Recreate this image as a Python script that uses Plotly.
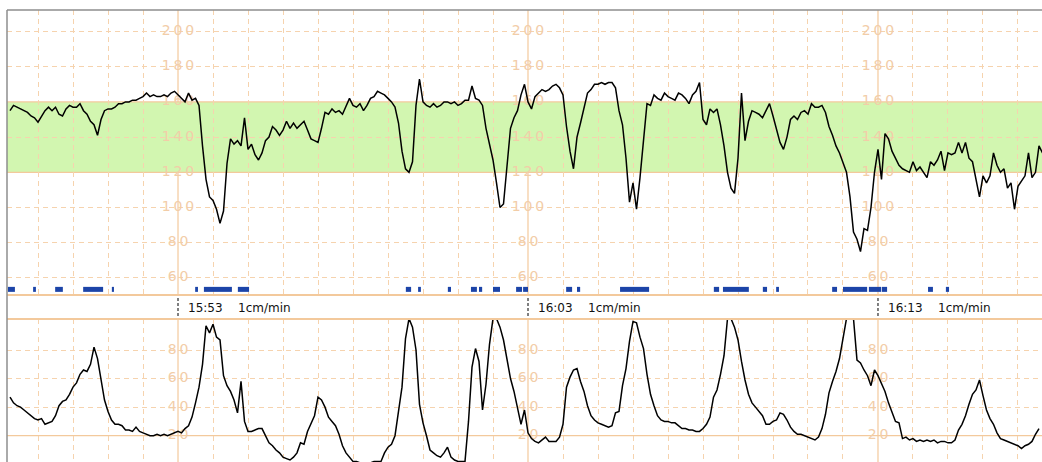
import plotly.graph_objects as go
import numpy as np

# ---------------- data ----------------
# time axis in minutes after 15:00; traces sampled every 0.1 min from 15:48:12
SAMPLE_START_MIN = 48.2
SAMPLE_STEP_MIN = 0.1

# fetal heart rate (bpm)
FHR = [155,158,157,156,155,154,152,151,148.5,152,
       155,157,155,157,153,152,156,158,157,157,
       159,155,153,149,147,141,150,155,156,156,
       157,159,159,160,160,161,161,162,163,165,
       163,164,163,163,164,163,165,166,164,162,
       160,165,161,162,158,135,116,106,104,99,
       91,98,125,139,136,138,135,151,133,136,
       130,127,131,138,140,146,144,141,144,149,
       145,148,145,147,149,144,139,138,137,145,
       154,153,156,154,155,153,158,162,
       158,157,159,155,158,162,163,166,165,164,
       162,160,157,148,132,122,120,126,158,173,
       160,158,157,159,157,158,160,160,159,160,
       158,159,161,161,169,162,161,158,145,135,
       127,114,100,102,123,145,151,155,164,170,
       160,156,163,165,167,166,167,169,170,168,
       164,146,132,122,140,148,157,165,167,170,
       170,171,170,171,171,168,155,147,128,103,
       114,99,117,137,159,158,164,162,161,165,
       163,162,161,165,164,162,159,164,
       166,171,150,147,156,154,156,147,135,120,
       111,108,128,165,138,149,155,154,153,151,
       155,159,152,145,137,133,140,150,152,150,
       154,155,153,159,157,157,158,154,146,141,
       135,131,126,120,106,86,82,75,88,87,
       100,120,133,116,142,139,132,128,124,122,
       121,120,126,121,123,120,117,126,124,127,
       132,121,131,130,131,137,131,137,128,126,
       116,106,118,114,118,131,124,120,122,111,
       114,99,112,115,118,131,117,120,135,131]

# uterine contractions (relative units)
UC = [47,43,41,40,38,36,34,32,31,32,
      28,29,30,34,41,44,45,49,54,57,
      63,66,65,70,82,74,60,45,37,31,
      28,28,27,24,24,23,26,23,22,21,
      20,20,21,20,21,20,21,22,23,22,
      25,27,33,43,54,70,97,92,98,89,
      87,62,55,51,45,36,58,30,23,23,
      24,25,25,20,15,13,10,8,5,4,
      3,5,8,15,14,23,29,34,47,45,
      40,33,30,27,21,13,8,5,
      2,2,1,1,1,1,2,2,2,8,
      12,14,20,37,54,88,102,96,80,42,
      29,20,10,8,6,5,8,12,5,3,
      2,2,2,30,68,81,72,38,56,84,
      102,102,96,87,72,60,51,39,28,38,
      22,18,16,15,17,19,16,16,16,19,
      28,54,61,66,67,58,51,41,34,31,
      29,28,27,26,27,36,37,55,67,86,
      100,99,89,81,63,49,41,34,31,30,
      30,29,29,27,25,25,
      24,24,23,23,25,28,33,47,52,63,
      76,102,102,96,87,72,59,49,43,40,
      37,34,28,28,30,31,36,35,31,26,
      23,21,21,20,19,18,17,19,25,35,
      50,58,65,74,88,102,102,102,73,71,
      66,62,55,66,62,57,51,43,36,30,
      29,18,19,17,18,16,17,16,17,16,
      17,15,16,16,15,15,17,24,28,34,
      42,49,52,59,48,38,32,28,22,18,
      17,16,15,14,13,11,13,14,16,21,
      25]

# fetal movement marks: start / end (minutes after 15:00)
MOVE_START = [48.14,48.86,49.49,50.29,51.11,53.49,53.74,54.71,59.51,59.86,
              60.71,61.37,61.60,62.00,62.66,62.86,64.09,64.40,65.63,68.31,
              68.57,69.71,70.09,71.69,72.00,72.74,73.11,74.43,74.94]
MOVE_END   = [48.34,48.94,49.71,50.86,51.17,53.57,54.54,55.03,59.66,59.94,
              60.80,61.54,61.69,62.20,62.83,63.00,64.26,64.49,66.46,68.46,
              69.31,69.83,70.17,71.83,72.69,73.09,73.26,74.57,75.03]
MOVE_LEVEL = 53.5

# time marks (10 min) and labels
MAJOR_TIMES = [53, 63, 73]
MAJOR_LABELS = ["15:53", "16:03", "16:13"]
MINOR_TIMES = list(range(49, 78))
SPEED_LABEL = "1cm/min"

FHR_TICKS = [200, 180, 160, 140, 120, 100, 80, 60]
FHR_DASHED = [200, 180, 140, 100, 80, 60]
FHR_NORMAL_BAND = [120, 160]
UC_TICKS = [80, 60, 40, 20]
UC_DASHED = [80, 60, 40]
UC_BASE = 20

X_RANGE = [48.114, 77.686]
FHR_RANGE = [50.3, 212.2]
UC_RANGE = [1.6, 101.7]

# ---------------- styling ----------------
W, H = 1042, 462
GRID = "#F6D3AE"
SOLID = "#F3C99C"
LABEL = "#F2CDA8"
GREEN = "#D2F6B0"
BLUE = "#1C44A8"

def py(px):  # pixel row -> paper y
    return (H - px) / H

X0 = 7 / W
TOP_DOM = [py(295), py(10)]
BOT_DOM = [0, py(319)]

t_fhr = SAMPLE_START_MIN + SAMPLE_STEP_MIN * np.arange(len(FHR))
t_uc = SAMPLE_START_MIN + SAMPLE_STEP_MIN * np.arange(len(UC))

fig = go.Figure()

# axis labels drawn as text under the traces
lab_x, lab_y, lab_t = [], [], []
for m in MAJOR_TIMES:
    for v in FHR_TICKS:
        lab_x.append(m); lab_y.append(v); lab_t.append("\u2009".join(str(v)))
fig.add_trace(go.Scatter(x=lab_x, y=lab_y, text=lab_t, mode="text",
                         textfont=dict(family="DejaVu Sans", size=14, color=LABEL),
                         xaxis="x", yaxis="y", hoverinfo="skip"))
lab_x, lab_y, lab_t = [], [], []
for m in MAJOR_TIMES:
    for v in UC_TICKS:
        lab_x.append(m); lab_y.append(v); lab_t.append("\u2009".join(str(v)))
fig.add_trace(go.Scatter(x=lab_x, y=lab_y, text=lab_t, mode="text",
                         textfont=dict(family="DejaVu Sans", size=14, color=LABEL),
                         xaxis="x2", yaxis="y2", hoverinfo="skip"))

# movement marks
mx, my = [], []
for s, e in zip(MOVE_START, MOVE_END):
    mx += [s, e, None]; my += [MOVE_LEVEL, MOVE_LEVEL, None]
fig.add_trace(go.Scatter(x=mx, y=my, mode="lines", line=dict(color=BLUE, width=5),
                         xaxis="x", yaxis="y", hoverinfo="skip"))

# traces
fig.add_trace(go.Scatter(x=t_fhr, y=FHR, mode="lines",
                         line=dict(color="black", width=1.5),
                         xaxis="x", yaxis="y", hoverinfo="skip"))
fig.add_trace(go.Scatter(x=t_uc, y=UC, mode="lines",
                         line=dict(color="black", width=1.5),
                         xaxis="x2", yaxis="y2", hoverinfo="skip"))

shapes = []
# normal band
shapes.append(dict(type="rect", xref="x", yref="y", x0=X_RANGE[0], x1=X_RANGE[1],
                   y0=FHR_NORMAL_BAND[0], y1=FHR_NORMAL_BAND[1], fillcolor=GREEN,
                   line=dict(width=0), layer="below"))
for v in FHR_NORMAL_BAND:
    shapes.append(dict(type="line", xref="x", yref="y", x0=X_RANGE[0], x1=X_RANGE[1],
                       y0=v, y1=v, line=dict(color=SOLID, width=1.2), layer="below"))
shapes.append(dict(type="line", xref="x2", yref="y2", x0=X_RANGE[0], x1=X_RANGE[1],
                   y0=UC_BASE, y1=UC_BASE, line=dict(color=SOLID, width=1.2), layer="below"))
for m in MAJOR_TIMES:
    shapes.append(dict(type="line", xref="x", yref="y domain", x0=m, x1=m, y0=0, y1=1,
                       line=dict(color=SOLID, width=1.2), layer="below"))
    shapes.append(dict(type="line", xref="x2", yref="y2 domain", x0=m, x1=m, y0=0, y1=1,
                       line=dict(color=SOLID, width=1.2), layer="below"))
    shapes.append(dict(type="line", xref="x", yref="paper", x0=m, x1=m,
                       y0=py(316), y1=py(297), line=dict(color="black", width=1, dash="3px,2px")))
# panel edges
shapes.append(dict(type="line", xref="paper", yref="paper", x0=X0, x1=1, y0=py(295), y1=py(295),
                   line=dict(color=SOLID, width=2)))
shapes.append(dict(type="line", xref="paper", yref="paper", x0=X0, x1=1, y0=py(319), y1=py(319),
                   line=dict(color=SOLID, width=2)))
# frame
shapes.append(dict(type="line", xref="paper", yref="paper", x0=X0, x1=1, y0=py(10), y1=py(10),
                   line=dict(color="#8E8E8E", width=1.5)))
shapes.append(dict(type="line", xref="paper", yref="paper", x0=X0, x1=X0, y0=0, y1=py(10),
                   line=dict(color="#8E8E8E", width=1.5)))

annotations = []
for m, lab in zip(MAJOR_TIMES, MAJOR_LABELS):
    annotations.append(dict(x=m, y=py(308), xref="x", yref="paper", text=lab, showarrow=False,
                            xanchor="left", yanchor="middle", xshift=8,
                            font=dict(family="DejaVu Sans", size=12, color="#111")))
    annotations.append(dict(x=m, y=py(308), xref="x", yref="paper", text=SPEED_LABEL, showarrow=False,
                            xanchor="left", yanchor="middle", xshift=58,
                            font=dict(family="DejaVu Sans", size=12, color="#111")))

minor = [m for m in MINOR_TIMES if m not in MAJOR_TIMES]
xcommon = dict(range=X_RANGE, domain=[X0, 1], tickvals=minor, showticklabels=False, ticks="",
               showgrid=True, gridcolor=GRID, gridwidth=1, griddash="5px,4px",
               zeroline=False, showline=False, fixedrange=True)
fig.update_layout(
    width=W, height=H, margin=dict(l=0, r=0, t=0, b=0),
    paper_bgcolor="white", plot_bgcolor="white", showlegend=False,
    xaxis=dict(anchor="y", **xcommon),
    xaxis2=dict(anchor="y2", **xcommon),
    yaxis=dict(domain=TOP_DOM, range=FHR_RANGE, tickvals=FHR_DASHED, showticklabels=False,
               ticks="", showgrid=True, gridcolor=GRID, gridwidth=1, griddash="5px,4px",
               zeroline=False, showline=False),
    yaxis2=dict(domain=BOT_DOM, range=UC_RANGE, tickvals=UC_DASHED, showticklabels=False,
                ticks="", showgrid=True, gridcolor=GRID, gridwidth=1, griddash="5px,4px",
                zeroline=False, showline=False),
    shapes=shapes, annotations=annotations,
)

fig.write_html("out.html")
